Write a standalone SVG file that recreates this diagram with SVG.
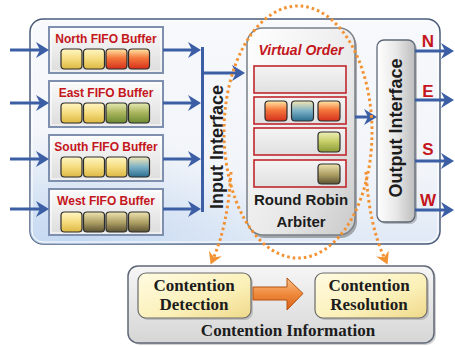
<svg xmlns="http://www.w3.org/2000/svg" width="455" height="346" viewBox="0 0 455 346">
<defs>
<linearGradient id="gOuter" x1="0" y1="0" x2="0" y2="1"><stop offset="0" stop-color="#f7f9fc"/><stop offset="0.7" stop-color="#f1f4f9"/><stop offset="1" stop-color="#dfe9f6"/></linearGradient>
<radialGradient id="gGlow" cx="0.1" cy="1" r="0.5"><stop offset="0" stop-color="#bcd3f0" stop-opacity="0.8"/><stop offset="1" stop-color="#bcd3f0" stop-opacity="0"/></radialGradient>
<linearGradient id="gBuf" x1="0" y1="0" x2="0" y2="1"><stop offset="0" stop-color="#fbfbfb"/><stop offset="1" stop-color="#dcdcdc"/></linearGradient>
<linearGradient id="gArb" x1="0" y1="0" x2="1" y2="1"><stop offset="0" stop-color="#ffffff"/><stop offset="0.6" stop-color="#e9e9e9"/><stop offset="1" stop-color="#c9c9c9"/></linearGradient>
<linearGradient id="gOut" x1="0" y1="0" x2="1" y2="0"><stop offset="0" stop-color="#ffffff"/><stop offset="0.5" stop-color="#e8e8e8"/><stop offset="1" stop-color="#bdbdbd"/></linearGradient>
<linearGradient id="gSlot" x1="0" y1="0" x2="0" y2="1"><stop offset="0" stop-color="#f4f4f4"/><stop offset="1" stop-color="#e0e0e0"/></linearGradient>
<linearGradient id="gCI" x1="0" y1="0" x2="0" y2="1"><stop offset="0" stop-color="#f6f6f6"/><stop offset="1" stop-color="#d6d6d6"/></linearGradient>
<linearGradient id="gYel" x1="0" y1="0" x2="1" y2="1"><stop offset="0" stop-color="#fffbe2"/><stop offset="0.6" stop-color="#fbf0b8"/><stop offset="1" stop-color="#efd98a"/></linearGradient>
<linearGradient id="gOr" x1="0" y1="0" x2="0" y2="1"><stop offset="0" stop-color="#f9c08a"/><stop offset="0.5" stop-color="#ef8a3c"/><stop offset="1" stop-color="#d9601a"/></linearGradient>
<linearGradient id="cy" x1="0" y1="0" x2="0" y2="1"><stop offset="0" stop-color="#fff6c4"/><stop offset="0.5" stop-color="#f5dc7e"/><stop offset="1" stop-color="#ddb843"/></linearGradient>
<linearGradient id="cr" x1="0" y1="0" x2="0" y2="1"><stop offset="0" stop-color="#ffe7a6"/><stop offset="0.45" stop-color="#f5783c"/><stop offset="1" stop-color="#d4301c"/></linearGradient>
<linearGradient id="cg" x1="0" y1="0" x2="0" y2="1"><stop offset="0" stop-color="#e6ebb2"/><stop offset="0.5" stop-color="#a8b45c"/><stop offset="1" stop-color="#6c8a32"/></linearGradient>
<linearGradient id="cg2" x1="0" y1="0" x2="0" y2="1"><stop offset="0" stop-color="#eef0b8"/><stop offset="0.5" stop-color="#c4cc66"/><stop offset="1" stop-color="#8a9a36"/></linearGradient>
<linearGradient id="cb" x1="0" y1="0" x2="0" y2="1"><stop offset="0" stop-color="#f3e8b4"/><stop offset="0.5" stop-color="#7cb0c6"/><stop offset="1" stop-color="#2a6e8e"/></linearGradient>
<linearGradient id="cd" x1="0" y1="0" x2="0" y2="1"><stop offset="0" stop-color="#efe4b0"/><stop offset="0.55" stop-color="#aa9c62"/><stop offset="1" stop-color="#5c5232"/></linearGradient>
<marker id="ab" viewBox="-14 -9 15 18" markerWidth="15" markerHeight="18" refX="-8" refY="0" orient="auto" markerUnits="userSpaceOnUse"><path d="M0,0 L-13,-8 L-9,0 L-13,8 Z" fill="#3b5ea5"/></marker>
<marker id="ao" viewBox="-13 -8 14 16" markerWidth="14" markerHeight="16" refX="-6" refY="0" orient="auto" markerUnits="userSpaceOnUse"><path d="M0,0 L-12,-7 L-8,0 L-12,7 Z" fill="#f39232"/></marker>
</defs>
<style>
.bl{stroke:#3b5ea5;stroke-width:3;fill:none}
.dot{stroke:#f39232;stroke-width:3;fill:none;stroke-dasharray:2.6 3}
.buf{fill:url(#gBuf);stroke:#7f90ae;stroke-width:2}
.bufin{fill:none;stroke:#ffffff;stroke-width:1}
.cell{stroke:#2c2c2c;stroke-width:1.2}
.slot{fill:url(#gSlot);stroke:#c0272d;stroke-width:1.6}
.tr{font-family:"Liberation Sans",Arial,sans-serif;font-weight:bold;fill:#c4161c;text-anchor:middle}
.tk{font-family:"Liberation Sans",Arial,sans-serif;font-weight:bold;fill:#1c1c1c;text-anchor:middle}
.ts{font-family:"Liberation Serif","Times New Roman",serif;font-weight:bold;fill:#1c1c1c;text-anchor:middle;font-size:17px}
</style>

<g id="router-frame">
<rect x="30" y="19" width="410" height="225" rx="13" fill="url(#gOuter)" stroke="#4b5c7a" stroke-width="1.5"/>
<rect x="30" y="19" width="410" height="225" rx="13" fill="url(#gGlow)"/>
<rect x="32" y="21" width="406" height="221" rx="11" fill="none" stroke="#ffffff" stroke-width="1"/>
</g>

<g id="north-buffer">
<rect class="buf" x="49" y="27" width="114" height="46"/><rect class="bufin" x="51" y="29" width="110" height="42"/>
<text class="tr" x="106" y="43" font-size="12">North FIFO Buffer</text>
<rect class="cell" x="61" y="49" width="21" height="20" rx="3.5" fill="url(#cy)"/>
<rect class="cell" x="83.5" y="49" width="21" height="20" rx="3.5" fill="url(#cy)"/>
<rect class="cell" x="106" y="49" width="21" height="20" rx="3.5" fill="url(#cr)"/>
<rect class="cell" x="128.5" y="49" width="21" height="20" rx="3.5" fill="url(#cr)"/>
</g>
<g id="east-buffer">
<rect class="buf" x="49" y="81" width="114" height="46"/><rect class="bufin" x="51" y="83" width="110" height="42"/>
<text class="tr" x="106" y="97" font-size="12">East FIFO Buffer</text>
<rect class="cell" x="61" y="103" width="21" height="20" rx="3.5" fill="url(#cy)"/>
<rect class="cell" x="83.5" y="103" width="21" height="20" rx="3.5" fill="url(#cy)"/>
<rect class="cell" x="106" y="103" width="21" height="20" rx="3.5" fill="url(#cg)"/>
<rect class="cell" x="128.5" y="103" width="21" height="20" rx="3.5" fill="url(#cg)"/>
</g>
<g id="south-buffer">
<rect class="buf" x="49" y="135" width="114" height="46"/><rect class="bufin" x="51" y="137" width="110" height="42"/>
<text class="tr" x="106" y="151" font-size="12">South FIFO Buffer</text>
<rect class="cell" x="61" y="157" width="21" height="20" rx="3.5" fill="url(#cy)"/>
<rect class="cell" x="83.5" y="157" width="21" height="20" rx="3.5" fill="url(#cy)"/>
<rect class="cell" x="106" y="157" width="21" height="20" rx="3.5" fill="url(#cy)"/>
<rect class="cell" x="128.5" y="157" width="21" height="20" rx="3.5" fill="url(#cb)"/>
</g>
<g id="west-buffer">
<rect class="buf" x="49" y="189" width="114" height="46"/><rect class="bufin" x="51" y="191" width="110" height="42"/>
<text class="tr" x="106" y="205" font-size="12">West FIFO Buffer</text>
<rect class="cell" x="61" y="212" width="21" height="20" rx="3.5" fill="url(#cy)"/>
<rect class="cell" x="83.5" y="212" width="21" height="20" rx="3.5" fill="url(#cd)"/>
<rect class="cell" x="106" y="212" width="21" height="20" rx="3.5" fill="url(#cd)"/>
<rect class="cell" x="128.5" y="212" width="21" height="20" rx="3.5" fill="url(#cd)"/>
</g>

<g id="input-interface">
<text class="tk" font-size="18" transform="translate(223,147) rotate(-90)">Input Interface</text>
</g>

<g id="round-robin-arbiter">
<rect x="249" y="31" width="108" height="207" rx="16" fill="#6e6e6e" opacity="0.55"/>
<rect x="247" y="28" width="108" height="207" rx="16" fill="url(#gArb)" stroke="#7a8088" stroke-width="1.5"/>
<text class="tr" x="301" y="55" font-size="14" font-style="italic">Virtual Order</text>
<rect class="slot" x="254" y="66" width="92" height="27"/>
<rect class="slot" x="254" y="97" width="92" height="27"/>
<rect class="slot" x="254" y="128" width="92" height="27"/>
<rect class="slot" x="254" y="160" width="92" height="27"/>
<rect class="cell" x="265" y="101" width="22" height="20" rx="3.5" fill="url(#cr)"/>
<rect class="cell" x="291.5" y="101" width="22" height="20" rx="3.5" fill="url(#cb)"/>
<rect class="cell" x="318" y="101" width="22" height="20" rx="3.5" fill="url(#cr)"/>
<rect class="cell" x="318" y="132" width="22" height="20" rx="3.5" fill="url(#cg2)"/>
<rect class="cell" x="318" y="164" width="22" height="20" rx="3.5" fill="url(#cd)"/>
<text class="tk" x="301" y="205" font-size="15">Round Robin</text>
<text class="tk" x="301" y="227" font-size="15">Arbiter</text>
</g>

<g id="output-interface">
<rect x="379" y="42" width="38" height="182" rx="7" fill="#7a7a7a" opacity="0.45"/>
<rect x="377" y="40" width="38" height="182" rx="7" fill="url(#gOut)" stroke="#5e6878" stroke-width="1.3"/>
<text class="tk" font-size="18" transform="translate(402,128) rotate(-90)">Output Interface</text>
</g>

<g id="port-labels">
<text class="tr" x="428" y="47" font-size="17">N</text>
<text class="tr" x="428" y="97" font-size="17">E</text>
<text class="tr" x="428" y="155" font-size="17">S</text>
<text class="tr" x="428" y="206" font-size="17">W</text>
</g>

<g id="contention-information">
<rect x="130" y="268" width="306" height="77" rx="10" fill="#8a8a8a" opacity="0.4"/>
<rect x="128" y="266" width="306" height="77" rx="10" fill="url(#gCI)" stroke="#5f6878" stroke-width="1.5"/>
<text class="ts" x="288" y="336">Contention Information</text>
</g>
<g id="contention-detection">
<rect x="140" y="275" width="113" height="45" rx="8" fill="#8a8a8a" opacity="0.4"/>
<rect x="138" y="273" width="113" height="45" rx="8" fill="url(#gYel)" stroke="#6a6a6a" stroke-width="1.2"/>
<text class="ts" x="194" y="291">Contention</text>
<text class="ts" x="194" y="310">Detection</text>
</g>
<g id="contention-resolution">
<rect x="317" y="275" width="112" height="45" rx="8" fill="#8a8a8a" opacity="0.4"/>
<rect x="315" y="273" width="112" height="45" rx="8" fill="url(#gYel)" stroke="#6a6a6a" stroke-width="1.2"/>
<text class="ts" x="369" y="291">Contention</text>
<text class="ts" x="369" y="310">Resolution</text>
</g>

<g id="connectors">
<line class="bl" x1="10" y1="50" x2="41" y2="50" marker-end="url(#ab)"/>
<line class="bl" x1="10" y1="103" x2="41" y2="103" marker-end="url(#ab)"/>
<line class="bl" x1="10" y1="159" x2="41" y2="159" marker-end="url(#ab)"/>
<line class="bl" x1="10" y1="209" x2="41" y2="209" marker-end="url(#ab)"/>
<line class="bl" x1="163" y1="50" x2="193" y2="50" marker-end="url(#ab)"/>
<line class="bl" x1="163" y1="103" x2="193" y2="103" marker-end="url(#ab)"/>
<line class="bl" x1="163" y1="159" x2="193" y2="159" marker-end="url(#ab)"/>
<line class="bl" x1="163" y1="209" x2="193" y2="209" marker-end="url(#ab)"/>
<line class="bl" x1="202.5" y1="47" x2="202.5" y2="212"/>
<line class="bl" x1="202" y1="73" x2="237" y2="73" marker-end="url(#ab)"/>
<line class="bl" x1="355" y1="117" x2="369" y2="117" marker-end="url(#ab)"/>
<line class="bl" x1="415" y1="51" x2="446" y2="51" marker-end="url(#ab)"/>
<line class="bl" x1="415" y1="100" x2="446" y2="100" marker-end="url(#ab)"/>
<line class="bl" x1="415" y1="161" x2="446" y2="161" marker-end="url(#ab)"/>
<line class="bl" x1="415" y1="210" x2="446" y2="210" marker-end="url(#ab)"/>
<ellipse class="dot" cx="298" cy="132" rx="74" ry="126"/>
<path class="dot" d="M231,172 Q228,225 213,259" marker-end="url(#ao)"/>
<path class="dot" d="M366,172 Q369,225 385,259" marker-end="url(#ao)"/>
<path d="M253,287 H287 V278 L303,293.5 L287,310 V300 H253 Z" fill="url(#gOr)" stroke="#b5520f" stroke-width="1"/>
</g>
</svg>
